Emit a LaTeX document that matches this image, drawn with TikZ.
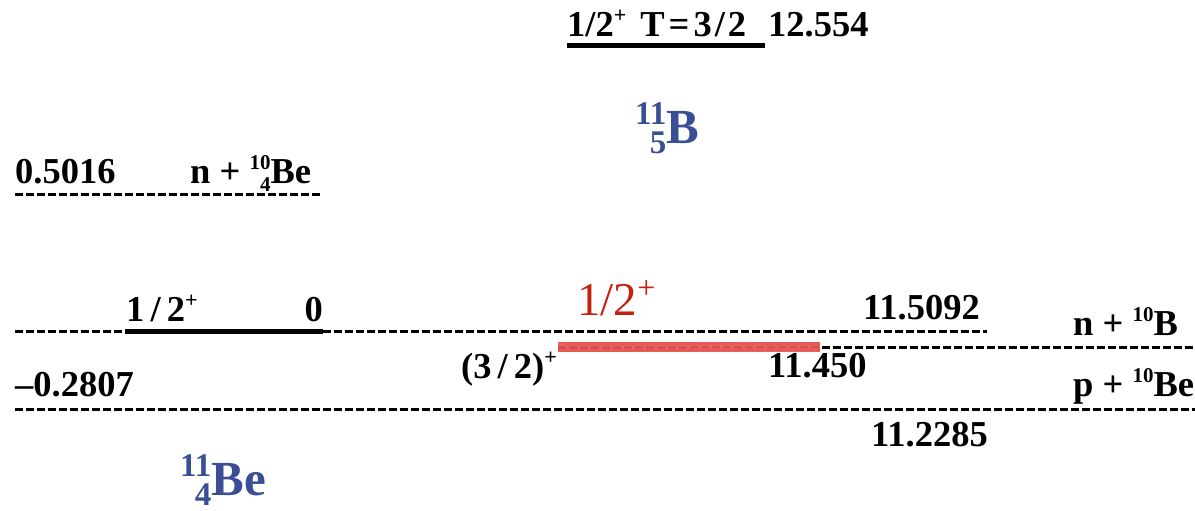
\documentclass[tikz,border=0pt]{standalone}
\usepackage{fontspec}
\setmainfont{Liberation Serif}
\definecolor{nucblue}{RGB}{58,78,150}
\definecolor{levred}{RGB}{200,32,16}
\definecolor{smear}{RGB}{232,88,84}
\newcommand{\nucl}[6]{{\setbox0\hbox{\fontsize{#1}{#1}\selectfont #2}\setbox2\hbox{\fontsize{#1}{#1}\selectfont #3}%
\dimen0=\wd0 \ifdim\wd2>\dimen0 \dimen0=\wd2\fi
\hbox to \dimen0{\hfil\raise#4\box0}\llap{\lower#5\box2}}#6}
\newcommand{\sps}[1]{\raisebox{14pt}{\fontsize{22}{22}\selectfont #1}}
\begin{document}
\begin{tikzpicture}[x=1pt,y=-1pt,
  lbl/.style={inner sep=0pt,anchor=base west,font=\fontsize{36.5}{40}\selectfont\bfseries},
  lble/.style={lbl,anchor=base east},
  blu/.style={inner sep=0pt,anchor=base west,text=nucblue,font=\fontsize{49}{50}\selectfont\bfseries},
  lev/.style={line width=5pt},
  thr/.style={line width=3pt,dash pattern=on 7.5pt off 3.5pt}]
\useasboundingbox (0,0) rectangle (1195,511);
% coordinates of level ends
\coordinate (t1) at (567,46); \coordinate (t2) at (765,46);
\coordinate (a1) at (15,194); \coordinate (a2) at (322,194);
\coordinate (g1) at (15,331); \coordinate (g2) at (125,331);
\coordinate (g3) at (323,331); \coordinate (g4) at (987,331);
\coordinate (b1) at (558,347); \coordinate (b2) at (820,347); \coordinate (b3) at (1195,347);
\coordinate (p1) at (15,409); \coordinate (p2) at (1195,409);
% levels
\draw[lev] (t1) -- (t2);
\draw[thr] (a1) -- (a2);
\draw[thr] (g1) -- (g2);
\draw[lev] (g2) -- (g3);
\draw[thr] (g3) -- (g4);
\draw[thr] (b1) -- (b3);
\draw[thr] (p1) -- (p2);
% red smeared level
\draw[smear,line width=10pt,opacity=0.92] (b1) -- (b2);
\draw[smear,line width=3pt] ([yshift=-3.5pt]b1) -- ([yshift=-2.5pt]b2);
\draw[smear,line width=3pt] ([yshift=3.5pt,xshift=4pt]b1) -- ([yshift=3pt]b2);
% labels
\node[lbl] (ttop) at (567,37) {1/2\sps{+}\hspace{14pt}T\kern4pt=\kern4pt3\kern3pt/\kern3pt2};
\node[lbl] (etop) at (768,37) {12.554};
\node[blu] (B11) at (635,143) {\nucl{33pt}{11}{5}{19pt}{10pt}{B}};
\node[lbl] (ea) at (15,183) {0.5016};
\node[lbl] (na) at (190,183) {n + \nucl{21pt}{10}{4}{14pt}{8pt}{Be}};
\node[lbl] (jg) at (126,321) {1\,/\,2\sps{+}};
\node[lble] (eg) at (323,321) {0};
\node[lbl,text=levred,font=\fontsize{47}{50}\selectfont] (jr) at (577,315) {1/2\raisebox{17pt}{\fontsize{32}{32}\selectfont +}};
\node[lbl] (eb) at (863,319) {11.5092};
\node[lbl] (nb) at (1073,335) {n + \nucl{21pt}{10}{}{14pt}{8pt}{B}};
\node[lbl] (j32) at (461,378) {(3\,/\,2)\sps{+}};
\node[lbl] (e45) at (768,377) {11.450};
\node[lbl] (ep) at (15,396) {\textendash0.2807};
\node[lbl] (np) at (1073,396) {p + \nucl{21pt}{10}{}{14pt}{8pt}{Be}};
\node[lbl] (e22) at (871,446) {11.2285};
\node[blu] (Be11) at (180,495) {\nucl{33pt}{11}{4}{19pt}{10pt}{Be}};
\end{tikzpicture}
\end{document}
